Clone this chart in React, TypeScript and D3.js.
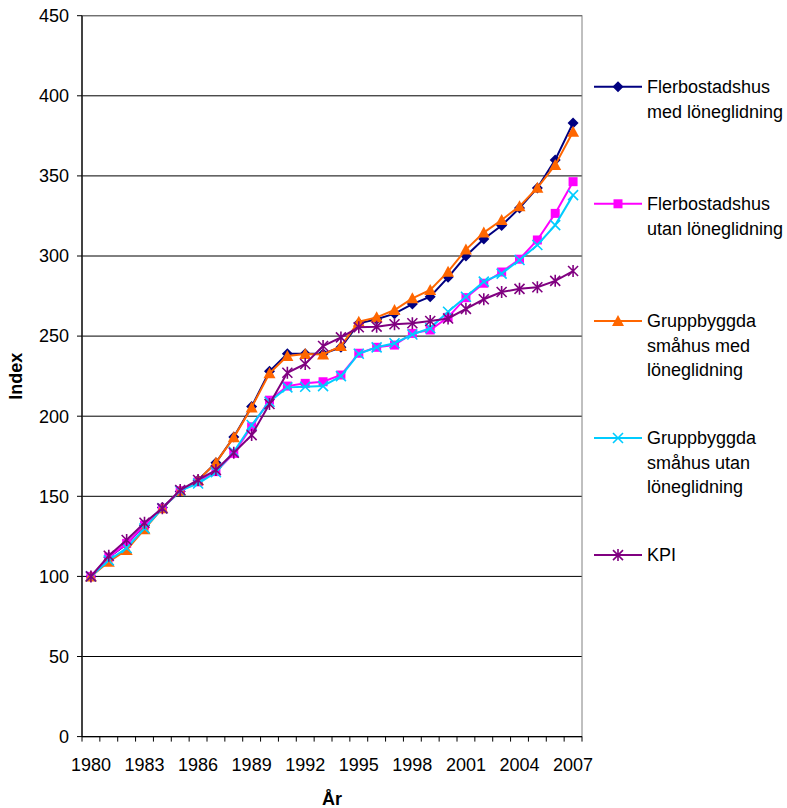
import React from 'react';
import * as d3 from 'd3';

const years = [1980, 1981, 1982, 1983, 1984, 1985, 1986, 1987, 1988, 1989, 1990, 1991, 1992, 1993, 1994, 1995, 1996, 1997, 1998, 1999, 2000, 2001, 2002, 2003, 2004, 2005, 2006, 2007];
const xTickLabels = [1980, 1983, 1986, 1989, 1992, 1995, 1998, 2001, 2004, 2007];
const yTicks = [0, 50, 100, 150, 200, 250, 300, 350, 400, 450];

const flerMed = [100, 112, 120, 132, 143, 153, 160, 171, 187, 206, 228, 239, 239, 239, 243, 258, 260.5, 264, 270, 274.6, 286.7, 300, 310.6, 319, 330, 342.5, 360, 383];
const flerUtan = [100, 112, 120.6, 132, 142.5, 153.5, 159, 165.4, 176.8, 193.4, 210, 218.8, 220.5, 221.5, 225.7, 239.3, 243, 244.4, 251.7, 253.8, 261.7, 274, 283, 290, 298, 310, 326.6, 346.4];
const gruppMed = [100, 109.2, 116.5, 129.5, 142.5, 153.5, 160, 171, 186.8, 205.5, 226.8, 237.6, 238.8, 238.5, 243.8, 259, 261.7, 266.3, 273.6, 278.8, 290.2, 304, 314.6, 322.5, 331, 342.6, 356.8, 377.6];
const gruppUtan = [100, 110, 117.7, 130, 142.5, 153.5, 158, 165, 177.8, 194.5, 209, 218, 218.4, 218.8, 225, 239, 243, 245.5, 251, 255, 265.2, 274.6, 284, 289, 297.5, 306.9, 319.3, 338];
const kpi = [100, 112.9, 122.7, 133.5, 142.5, 153.9, 160.2, 166.4, 177.2, 188.2, 207.6, 227.1, 232.6, 243.8, 249.2, 255.5, 255.9, 257.4, 258, 259.4, 261, 267, 273, 277.5, 279.5, 280.5, 284.5, 290.6];

const seriesNames = [
  ['Flerbostadshus', 'med löneglidning'],
  ['Flerbostadshus', 'utan löneglidning'],
  ['Gruppbyggda', 'småhus med', 'löneglidning'],
  ['Gruppbyggda', 'småhus utan', 'löneglidning'],
  ['KPI'],
];
const seriesValues = [flerMed, flerUtan, gruppMed, gruppUtan, kpi];
const seriesColors = ['#000080', '#FF00FF', '#FF6600', '#00CCFF', '#800080'];
const seriesMarkers = ['diamond', 'square', 'triangle', 'x', 'star'];

const W = 787;
const H = 808;
const left = 82;
const right = 582;
const top = 15.7;
const bottom = 736.6;
const FONT = 'Liberation Sans, Arial, sans-serif';
const FS = 18;

function Marker({ type, color, cx, cy }: { type: string; color: string; cx: number; cy: number }) {
  const t = `translate(${cx},${cy})`;
  if (type === 'diamond') return <path transform={t} d="M0,-5.5L5.5,0L0,5.5L-5.5,0Z" fill={color} />;
  if (type === 'square') return <rect transform={t} x={-4.5} y={-4.5} width={9} height={9} fill={color} />;
  if (type === 'triangle') return <path transform={t} d="M0,-6L6,5L-6,5Z" fill={color} />;
  if (type === 'x')
    return (
      <path transform={t} d="M-5,-5L5,5M-5,5L5,-5" stroke={color} strokeWidth={1.6} fill="none" />
    );
  return (
    <path transform={t} d="M-5,-5L5,5M-5,5L5,-5M0,-6L0,6" stroke={color} strokeWidth={1.6} fill="none" />
  );
}

export default function App() {
  const x = d3.scaleBand<number>().domain(years).range([left, right]).paddingInner(0).paddingOuter(0);
  const bw = x.bandwidth();
  const cx = (yr: number) => (x(yr) as number) + bw / 2;
  const y = d3.scaleLinear().domain([0, 450]).range([bottom, top]);
  const line = d3
    .line<number>()
    .x((_, i) => cx(years[i]))
    .y((d) => y(d));

  const boundaries = years.map((yr) => x(yr) as number).concat([right]);

  const legendX0 = 594;
  const legendY0 = 86.7;
  const legendStep = 117.1;

  return (
    <svg
      width={W}
      height={H}
      style={{ position: 'absolute', left: 0, top: 0, display: 'block', background: '#fff' }}
      fontFamily={FONT}
    >
      <rect x={0} y={0} width={W} height={H} fill="#fff" />
      {yTicks.map((t) => (
        <line key={'g' + t} x1={left} x2={right} y1={y(t)} y2={y(t)} stroke="#000" strokeWidth={1} />
      ))}
      <rect x={left} y={top} width={right - left} height={bottom - top} fill="none" stroke="#808080" strokeWidth={1} />
      <line x1={left} x2={left} y1={top} y2={bottom} stroke="#000" strokeWidth={1.3} />
      <line x1={left} x2={right} y1={bottom} y2={bottom} stroke="#000" strokeWidth={1.3} />
      {yTicks.map((t) => (
        <g key={'yt' + t}>
          <line x1={left - 5} x2={left} y1={y(t)} y2={y(t)} stroke="#000" strokeWidth={1} />
          <text x={69} y={y(t)} dy="0.35em" textAnchor="end" fontSize={FS} fill="#000">
            {t}
          </text>
        </g>
      ))}
      {boundaries.map((b, i) => (
        <line key={'xt' + i} x1={b} x2={b} y1={bottom} y2={bottom + 5} stroke="#000" strokeWidth={1} />
      ))}
      {xTickLabels.map((yr) => (
        <text key={'xl' + yr} x={cx(yr)} y={771} textAnchor="middle" fontSize={FS} fill="#000">
          {yr}
        </text>
      ))}
      <text x={332} y={805} textAnchor="middle" fontSize={FS} fontWeight="bold" fill="#000">
        År
      </text>
      <text
        transform={`translate(22,${(top + bottom) / 2}) rotate(-90)`}
        textAnchor="middle"
        fontSize={FS}
        fontWeight="bold"
        fill="#000"
      >
        Index
      </text>
      {seriesValues.map((vals, si) => (
        <g key={'s' + si}>
          <path d={line(vals) as string} fill="none" stroke={seriesColors[si]} strokeWidth={2} />
          {vals.map((v, i) => (
            <Marker key={i} type={seriesMarkers[si]} color={seriesColors[si]} cx={cx(years[i])} cy={y(v)} />
          ))}
        </g>
      ))}
      {seriesNames.map((lines, si) => {
        const ly = legendY0 + si * legendStep;
        return (
          <g key={'lg' + si}>
            <line x1={legendX0} x2={legendX0 + 48} y1={ly} y2={ly} stroke={seriesColors[si]} strokeWidth={2} />
            <Marker type={seriesMarkers[si]} color={seriesColors[si]} cx={legendX0 + 24} cy={ly} />
            {lines.map((l, li) => (
              <text key={li} x={647} y={ly + li * 24.5} dy="0.35em" fontSize={FS} fill="#000">
                {l}
              </text>
            ))}
          </g>
        );
      })}
    </svg>
  );
}
